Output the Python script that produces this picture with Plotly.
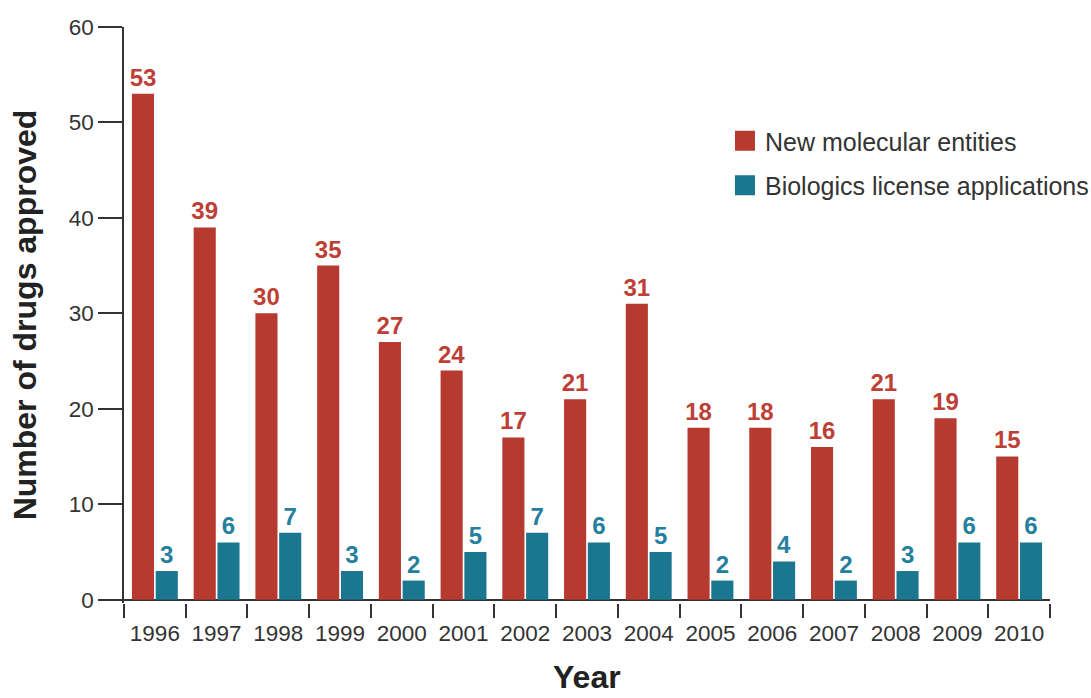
import plotly.graph_objects as go

years = ["1996", "1997", "1998", "1999", "2000", "2001", "2002", "2003",
         "2004", "2005", "2006", "2007", "2008", "2009", "2010"]
nme = [53, 39, 30, 35, 27, 24, 17, 21, 31, 18, 18, 16, 21, 19, 15]
bla = [3, 6, 7, 3, 2, 5, 7, 6, 5, 2, 4, 2, 3, 6, 6]
series_names = ["New molecular entities", "Biologics license applications"]

RED = "#B63A2F"
TEAL = "#1B768F"
FONT = "Liberation Sans, Arial, sans-serif"
DARK = "#333333"

fig = go.Figure()
fig.add_trace(go.Bar(
    x=years, y=nme, name=series_names[0], showlegend=False,
    marker=dict(color=RED, line=dict(width=0)),
    texttemplate="%{y}", textposition="outside", cliponaxis=False,
    constraintext="none",
    textfont=dict(family=FONT, size=24, color="#BE3F36", weight="bold"),
))
fig.add_trace(go.Bar(
    x=years, y=bla, name=series_names[1], showlegend=False,
    marker=dict(color=TEAL, line=dict(width=0)),
    texttemplate="%{y}", textposition="outside", cliponaxis=False,
    constraintext="none",
    textfont=dict(family=FONT, size=24, color="#24809E", weight="bold"),
))
# legend keys (larger squares than bar legend icons)
for nm, col, grp in [(series_names[0], RED, "a"), (series_names[1], TEAL, "b")]:
    fig.add_trace(go.Scatter(
        x=[None], y=[None], mode="markers", name=nm, legendgroup=grp,
        marker=dict(symbol="square", size=16, color=col,
                    line=dict(color=col, width=4)),
        hoverinfo="skip",
    ))

fig.update_layout(
    width=1091, height=698,
    margin=dict(l=124, r=41, t=27, b=95, autoexpand=False),
    paper_bgcolor="white", plot_bgcolor="white",
    barmode="group", bargap=0.23, bargroupgap=0.07,
    font=dict(family=FONT, color=DARK, size=22),
    showlegend=True,
    legend=dict(
        x=0.649, y=0.842, xanchor="left", yanchor="top",
        font=dict(family=FONT, size=25, color=DARK),
        traceorder="grouped", tracegroupgap=9,
        bgcolor="rgba(0,0,0,0)",
    ),
    annotations=[dict(
        text="<b>Year</b>", xref="paper", yref="paper", x=0.5, y=-0.163,
        xanchor="center", yanchor="bottom", showarrow=False,
        font=dict(family=FONT, size=32, color="#222222"),
    )],
)

fig.update_xaxes(
    type="category", tickson="boundaries", ticks="outside", ticklen=14,
    tickwidth=1.5, tickcolor=DARK, showline=False, showgrid=False,
    zeroline=False, automargin=False, ticklabelstandoff=14,
    tickfont=dict(family=FONT, size=22.5, color=DARK),
)
fig.update_yaxes(
    range=[-0.35, 60], dtick=10, tick0=0, ticks="outside", ticklen=24,
    tickwidth=1.5, tickcolor=DARK, showline=True, linewidth=1.5,
    linecolor=DARK, showgrid=False, zeroline=True, zerolinecolor=DARK,
    zerolinewidth=1.5, automargin=False,
    tickfont=dict(family=FONT, size=22.5, color=DARK),
    title=dict(text="<b>Number of drugs approved</b>",
               font=dict(family=FONT, size=32, color="#222222"), standoff=23),
)

fig.write_html("out.html", config={"displayModeBar": False},
               post_script="document.body.style.margin='0';")
